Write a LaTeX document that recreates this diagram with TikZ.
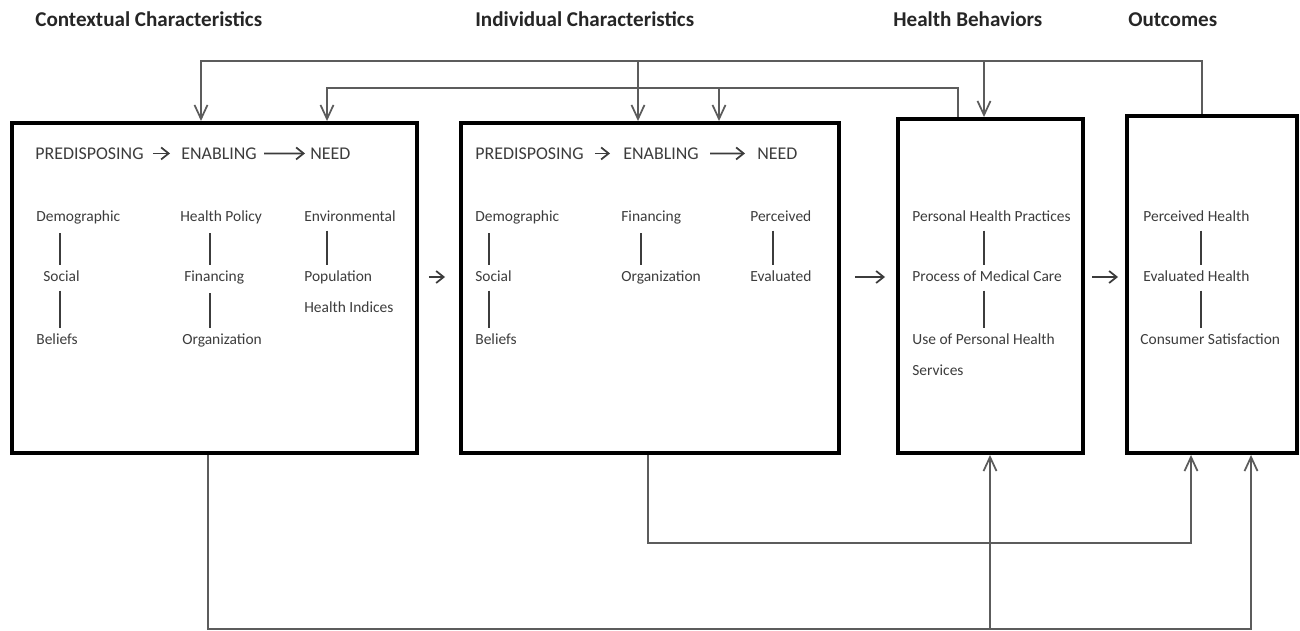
\documentclass[tikz,border=0pt]{standalone}
\usepackage{fontspec}
\setmainfont{Carlito}
\usepackage{tikz}
\usetikzlibrary{arrows.meta}
\definecolor{ink}{HTML}{3C3C3C}
\definecolor{wire}{HTML}{5C5C5C}

\begin{document}
\begin{tikzpicture}[x=0.02cm,y=-0.02cm,font=\fontsize{8.8}{10}\selectfont,
  >={Straight Barb[length=2.8mm,width=2.6mm]},
  box/.style={draw=black,line width=0.8mm,inner sep=0pt},
  ttl/.style={anchor=mid west,inner sep=0pt,font=\fontsize{12}{14}\selectfont\bfseries,text=black!85},
  hdr/.style={anchor=mid west,inner sep=0pt,font=\fontsize{10.2}{12}\selectfont,text=ink},
  itm/.style={anchor=mid west,inner sep=0pt,text=ink},
  link/.style={draw=wire,line width=0.35mm},
  hop/.style={draw=ink,line width=0.35mm,->,>={Straight Barb[length=1.5mm,width=2.4mm]}},
  tie/.style={draw=ink,line width=0.25mm,shorten <=1.8mm,shorten >=1.1mm}]

\useasboundingbox (0,0) rectangle (1300,631);

% ---- titles
\node[ttl] (tctx) at (35,22) {Contextual Characteristics};
\node[ttl] (tind) at (475,22) {Individual Characteristics};
\node[ttl] (tbeh) at (893,22) {Health Behaviors};
\node[ttl] (tout) at (1128,22) {Outcomes};

% ---- boxes
\node[box,minimum width=8.1cm,minimum height=6.6cm] (ctx) at (214.5,288) {};
\node[box,minimum width=7.56cm,minimum height=6.6cm] (ind) at (650,288) {};
\node[box,minimum width=3.7cm,minimum height=6.68cm] (beh) at (990.5,286) {};
\node[box,minimum width=3.4cm,minimum height=6.74cm] (out) at (1212,284.5) {};

% ---- contextual characteristics
\node[hdr] (pre1) at (35,155) {PREDISPOSING};
\node[hdr] (ena1) at (181,155) {ENABLING};
\node[hdr] (need1) at (310,155) {NEED};
\draw[hop,shorten <=1.8mm,shorten >=2.2mm] (pre1) -- (ena1);
\draw[hop,shorten <=1.4mm,shorten >=1mm] (ena1) -- (need1);
\node[itm] (dem1) at (36,217) {Demographic};
\node[itm] (soc1) at (43,277) {Social};
\node[itm] (bel1) at (36,340) {Beliefs};
\node[itm] (pol1) at (180,217) {Health Policy};
\node[itm] (fin1) at (184,277) {Financing};
\node[itm] (org1) at (182,340) {Organization};
\node[itm] (env1) at (304,217) {Environmental};
\node[itm] (pop1) at (304,277) {Population};
\node[itm] (hix1) at (304,308) {Health Indices};
\draw[tie] (dem1.south -| 60,0) -- (soc1.north -| 60,0);
\draw[tie] (soc1.south -| 60,0) -- (bel1.north -| 60,0);
\draw[tie] (pol1.south -| 210,0) -- (fin1.north -| 210,0);
\draw[tie] (fin1.south -| 210,0) -- (org1.north -| 210,0);
\draw[tie] (env1.south -| 327,0) -- (pop1.north -| 327,0);

% ---- individual characteristics
\node[hdr] (pre2) at (475,155) {PREDISPOSING};
\node[hdr] (ena2) at (623,155) {ENABLING};
\node[hdr] (need2) at (757,155) {NEED};
\draw[hop,shorten <=2.2mm,shorten >=2.6mm] (pre2) -- (ena2);
\draw[hop,shorten <=2.2mm,shorten >=2.4mm] (ena2) -- (need2);
\node[itm] (dem2) at (475,217) {Demographic};
\node[itm] (soc2) at (475,277) {Social};
\node[itm] (bel2) at (475,340) {Beliefs};
\node[itm] (fin2) at (621,217) {Financing};
\node[itm] (org2) at (621,277) {Organization};
\node[itm] (per2) at (750,217) {Perceived};
\node[itm] (eva2) at (750,277) {Evaluated};
\draw[tie] (dem2.south -| 489,0) -- (soc2.north -| 489,0);
\draw[tie] (soc2.south -| 489,0) -- (bel2.north -| 489,0);
\draw[tie] (fin2.south -| 641,0) -- (org2.north -| 641,0);
\draw[tie] (per2.south -| 773,0) -- (eva2.north -| 773,0);

% ---- health behaviors
\node[itm] (php) at (912,217) {Personal Health Practices};
\node[itm] (pmc) at (912,277) {Process of Medical Care};
\node[itm] (uph) at (912,340) {Use of Personal Health};
\node[itm] (srv) at (912,371) {Services};
\draw[tie] (php.south -| 984,0) -- (pmc.north -| 984,0);
\draw[tie] (pmc.south -| 984,0) -- (uph.north -| 984,0);

% ---- outcomes
\node[itm] (phl) at (1143,217) {Perceived Health};
\node[itm] (ehl) at (1143,277) {Evaluated Health};
\node[itm] (csat) at (1140,340) {Consumer Satisfaction};
\draw[tie] (phl.south -| 1201,0) -- (ehl.north -| 1201,0);
\draw[tie] (ehl.south -| 1201,0) -- (csat.north -| 1201,0);

% ---- forward arrows between boxes
\coordinate (row) at (0,277);
\draw[hop,shorten <=2mm,shorten >=2.8mm] (ctx.east |- row) -- (ind.west |- row);
\draw[hop,shorten <=2.8mm,shorten >=2.2mm] (ind.east |- row) -- (beh.west |- row);
\draw[hop,shorten <=1.4mm,shorten >=1.4mm] (beh.east |- row) -- (out.west |- row);

% ---- feedback from outcomes
\coordinate (fbO) at (1202,61);
\coordinate (fbO1) at (201,61);
\coordinate (fbO2) at (638,61);
\coordinate (fbO3) at (984,61);
\draw[link,->] (out.north -| fbO) |- (fbO1) -- (ctx.north -| fbO1);
\draw[link,->] (fbO2) -- (ind.north -| fbO2);
\draw[link,->] (fbO3) -- (beh.north -| fbO3);

% ---- feedback from health behaviors
\coordinate (fbB) at (958,88);
\coordinate (fbB1) at (327,88);
\coordinate (fbB2) at (719,88);
\draw[link,->] (beh.north -| fbB) |- (fbB1) -- (ctx.north -| fbB1);
\draw[link,->] (fbB2) -- (ind.north -| fbB2);

% ---- lower paths
\coordinate (ffI) at (648,543);
\coordinate (ffI1) at (1191,543);
\draw[link,->] (ind.south -| ffI) |- (ffI1) -- (out.south -| ffI1);
\coordinate (ffC) at (208,629);
\coordinate (ffC1) at (1251,629);
\coordinate (ffC2) at (990,629);
\draw[link,->] (ctx.south -| ffC) |- (ffC1) -- (out.south -| ffC1);
\draw[link,->] (ffC2) -- (beh.south -| ffC2);
\end{tikzpicture}
\end{document}
